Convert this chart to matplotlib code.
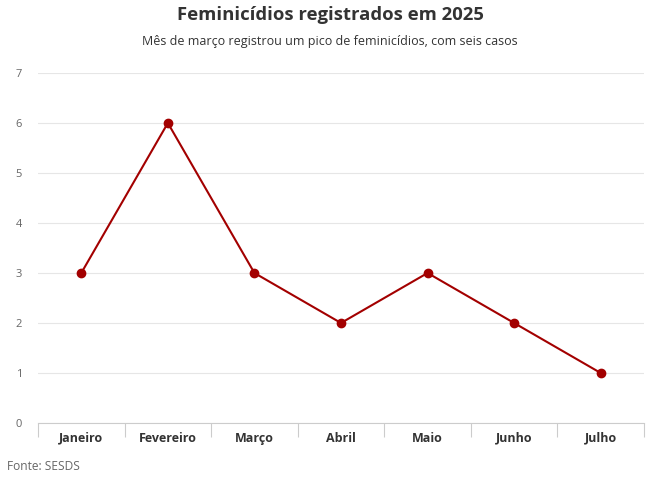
import matplotlib
matplotlib.use("Agg")
import matplotlib.pyplot as plt
from matplotlib.ticker import FixedLocator

plt.rcParams['font.family'] = ['Open Sans', 'DejaVu Sans']

months = ["Janeiro", "Fevereiro", "Março", "Abril", "Maio", "Junho", "Julho"]
cases = [3, 6, 3, 2, 3, 2, 1]
yticks = [0, 1, 2, 3, 4, 5, 6, 7]

title = "Feminicídios registrados em 2025"
subtitle = "Mês de março registrou um pico de feminicídios, com seis casos"
source = "Fonte: SESDS"

fig = plt.figure(figsize=(6.6, 4.82), dpi=100)
ax = fig.add_axes([38/660, 1-423/482, (644-38)/660, (423-73)/482])

x = list(range(len(months)))
ax.plot(x, cases, color="#a30000", linewidth=1.5, marker="o", markersize=6,
        markerfacecolor="#a30000", markeredgecolor="#a30000", zorder=3)

ax.set_xlim(-0.5, len(months) - 0.5)
ax.set_ylim(0, 7)
ax.set_yticks(yticks)
ax.set_yticklabels([str(v) for v in yticks])
ax.grid(axis="y", color="#e6e6e6", linewidth=0.8)
ax.set_axisbelow(True)

ax.set_xticks(x)
ax.set_xticklabels(months, fontweight="bold", color="#333333", fontsize=9)
for lbl in ax.get_xticklabels():
    lbl.set_verticalalignment("baseline")
ax.xaxis.set_minor_locator(FixedLocator([i - 0.5 for i in range(len(months) + 1)]))
ax.tick_params(axis="x", which="major", length=0, pad=13.5)
ax.tick_params(axis="x", which="minor", length=10, color="#cccccc", width=0.8)
ax.tick_params(axis="y", length=0, pad=16, labelcolor="#666666", labelsize=8)
for lbl in ax.get_yticklabels():
    lbl.set_horizontalalignment("left")

for s in ["top", "right", "left"]:
    ax.spines[s].set_visible(False)
ax.spines["bottom"].set_color("#cccccc")
ax.spines["bottom"].set_linewidth(0.8)

fig.text(0.5, 1-15/482, title, ha="center", va="center", fontsize=13.3,
         fontweight="bold", color="#333333")
fig.text(0.5, 1-41/482, subtitle, ha="center", va="center", fontsize=9,
         color="#333333")
fig.text(7/660, 1-467/482, source, ha="left", va="center", fontsize=8.6,
         color="#666666")

fig.savefig("out.png", dpi=100)
